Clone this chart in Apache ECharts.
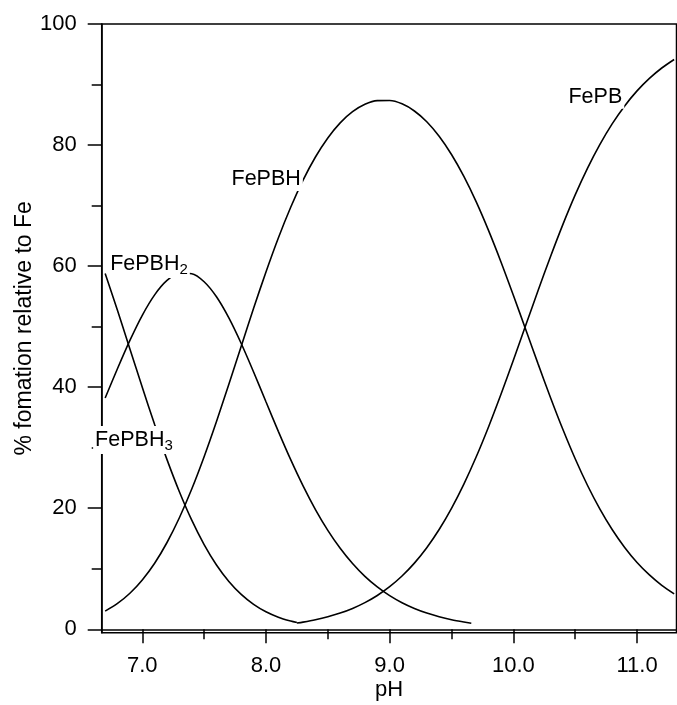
<!DOCTYPE html>
<html><head><meta charset="utf-8">
<script src="https://cdn.jsdelivr.net/npm/echarts@6/dist/echarts.min.js"></script>
<style>html,body{margin:0;padding:0;background:#fff}#c{width:677px;height:705px}</style>
</head><body><div id="c"></div>
<script>
// ---- data ----
const pH = [6.7,6.8,6.9,7.0,7.1,7.2,7.3,7.4,7.5,7.6,7.7,7.8,7.9,8.0,8.1,8.2,8.3,8.4,8.5,8.6,8.7,8.8,8.9,9.0,9.1,9.2,9.3,9.4,9.5,9.6,9.7,9.8,9.9,10.0,10.1,10.2,10.3,10.4,10.5,10.6,10.7,10.8,10.9,11.0,11.1,11.2,11.3];
const fePBH = [3.01,4.27,5.95,8.15,10.92,14.34,18.43,23.17,28.51,34.33,40.49,46.78,53.03,59.03,64.65,69.73,74.21,78.03,81.18,83.67,85.51,86.74,87.34,87.36,86.81,85.63,83.85,81.45,78.44,74.82,70.61,65.86,60.69,55.19,49.53,43.85,38.31,33.05,28.18,23.76,19.85,16.44,13.52,11.04,8.98,7.26,5.86];

const fePBH3Ph = [6.7,6.8,6.9,7.0,7.1,7.2,7.3,7.4,7.5,7.6,7.7,7.8,7.9,8.0,8.1,8.2,8.25];
const fePBH3 = [58.78,52.65,46.32,39.99,33.83,28.03,22.73,18.03,14.00,10.63,7.91,5.77,4.13,2.90,2.00,1.36,1.12];

const fePBH2Ph = [6.7,6.8,6.9,7.0,7.1,7.2,7.3,7.4,7.5,7.6,7.7,7.8,7.9,8.0,8.1,8.2,8.3,8.4,8.5,8.6,8.7,8.8,8.9,9.0,9.1,9.2,9.3,9.4,9.5,9.6,9.66];
const fePBH2 = [38.21,43.08,47.72,51.87,55.25,57.63,58.82,58.75,57.42,54.93,51.44,47.21,42.51,37.59,32.70,28.02,23.69,19.78,16.35,13.39,10.87,8.75,7.00,5.56,4.39,3.44,2.68,2.07,1.58,1.20,1.01];

const fePBPh = [8.25,8.3,8.4,8.5,8.6,8.7,8.8,8.9,9.0,9.1,9.2,9.3,9.4,9.5,9.6,9.7,9.8,9.9,10.0,10.1,10.2,10.3,10.4,10.5,10.6,10.7,10.8,10.9,11.0,11.1,11.2,11.3];
const fePB = [1.03,1.19,1.58,2.07,2.68,3.45,4.41,5.59,7.04,8.80,10.93,13.47,16.48,19.98,23.99,28.50,33.47,38.82,44.45,50.22,55.97,61.56,66.86,71.77,76.20,80.12,83.54,86.47,88.95,91.01,92.73,94.14];

const xMajorTicks = [7, 8, 9, 10, 11];
const xMinorTicks = [7.5, 8.5, 9.5, 10.5];
const yMajorTicks = [0, 20, 40, 60, 80, 100];
const yMinorTicks = [10, 30, 50, 70, 90];

const xTitle = 'pH';
const yTitle = '% fomation relative to Fe';

// ---- chart ----
const FONT = 'Liberation Sans, Arial, Helvetica, sans-serif';
const zip = (xs, ys) => xs.map((x, i) => [x, ys[i]]);
const XMIN = 6.672, XMAX = 11.319, YMIN = -0.562, YMAX = 100;
const axisLineStyle = { color: '#000', width: 1.5 };
const txt = { color: '#000', fontSize: 22, fontFamily: FONT, textBorderWidth: 0 };

const lineSeries = (name, data) => ({
  name, type: 'line', data, showSymbol: false, symbol: 'none', smooth: 0.3,
  lineStyle: { color: '#000', width: 1.6 }, z: 2, silent: true, animation: false
});

const tokenBase = { color: '#000', fontFamily: FONT, textBorderWidth: 0, textBorderColor: 'transparent' };
const richStyles = {
  a: { fontSize: 21.5, lineHeight: 26, ...tokenBase },
  s: { fontSize: 15, lineHeight: 11, verticalAlign: 'bottom', ...tokenBase }
};

const annotations = [
  { text: 'FePB', x: fePBPh[27], y: fePB[27], offset: [-29.3, -9.2] },
  { text: 'FePBH', x: pH[16], y: fePBH[16], offset: [-36.9, -1.1] },
  { text: '{a|FePBH}{s|2}', x: fePBH2Ph[6], y: fePBH2[6], offset: [-30.4, -9.3] },
  { text: '{a|FePBH}{s|3}', x: fePBH3Ph[4], y: fePBH3[4], offset: [-20.7, 15.5] }
];

const chart = echarts.init(document.getElementById('c'), null, { renderer: 'canvas' });
chart.setOption({
  animation: false,
  backgroundColor: '#fff',
  grid: {
    left: 101.7, right: 0.5, top: 24, bottom: 72.3, containLabel: false, outerBoundsMode: 'none',
    show: true, borderColor: '#000', borderWidth: 1.5, backgroundColor: 'transparent'
  },
  xAxis: [
    {
      type: 'value', min: XMIN, max: XMAX, position: 'bottom',
      axisLine: { show: true, lineStyle: axisLineStyle },
      axisTick: { show: true, inside: false, length: 14, customValues: xMajorTicks, lineStyle: axisLineStyle },
      axisLabel: { show: true, customValues: xMajorTicks, formatter: v => Number(v).toFixed(1), margin: 22, ...txt },
      splitLine: { show: false },
      name: xTitle, nameLocation: 'middle', nameGap: 46, nameMoveOverlap: false, nameTextStyle: txt
    },
    {
      type: 'value', min: XMIN, max: XMAX, position: 'bottom',
      axisLine: { show: false },
      axisTick: { show: true, inside: false, length: 10, customValues: xMinorTicks, lineStyle: axisLineStyle },
      axisLabel: { show: false }, splitLine: { show: false }
    }
  ],
  yAxis: [
    {
      type: 'value', min: YMIN, max: YMAX, position: 'left',
      axisLine: { show: true, lineStyle: axisLineStyle },
      axisTick: { show: true, inside: false, length: 14, customValues: yMajorTicks, lineStyle: axisLineStyle },
      axisLabel: { show: true, customValues: yMajorTicks, formatter: v => String(Math.round(v)), margin: 25, ...txt },
      splitLine: { show: false },
      name: yTitle, nameLocation: 'middle', nameGap: 66, nameRotate: 90, nameMoveOverlap: false,
      nameTextStyle: { ...txt, fontSize: 23 }
    },
    {
      type: 'value', min: YMIN, max: YMAX, position: 'left',
      axisLine: { show: false },
      axisTick: { show: true, inside: false, length: 10, customValues: yMinorTicks, lineStyle: axisLineStyle },
      axisLabel: { show: false }, splitLine: { show: false }
    }
  ],
  series: [
    lineSeries('FePBH3', zip(fePBH3Ph, fePBH3)),
    lineSeries('FePBH2', zip(fePBH2Ph, fePBH2)),
    lineSeries('FePBH', zip(pH, fePBH)),
    lineSeries('FePB', zip(fePBPh, fePB)),
    {
      name: 'labels', type: 'scatter', symbolSize: 1, z: 10, silent: true,
      itemStyle: { color: 'rgba(0,0,0,0)' },
      emphasis: { disabled: true },
      data: annotations.map(a => ({
        value: [a.x, a.y],
        label: {
          show: true, position: 'inside', formatter: a.text, offset: a.offset,
          color: '#000', fontSize: 21.5, fontFamily: FONT,
          textBorderWidth: 0, textBorderColor: 'transparent', opacity: 1,
          backgroundColor: '#fff', padding: [1, 2], rich: richStyles
        }
      }))
    }
  ]
});
</script>
</body></html>
